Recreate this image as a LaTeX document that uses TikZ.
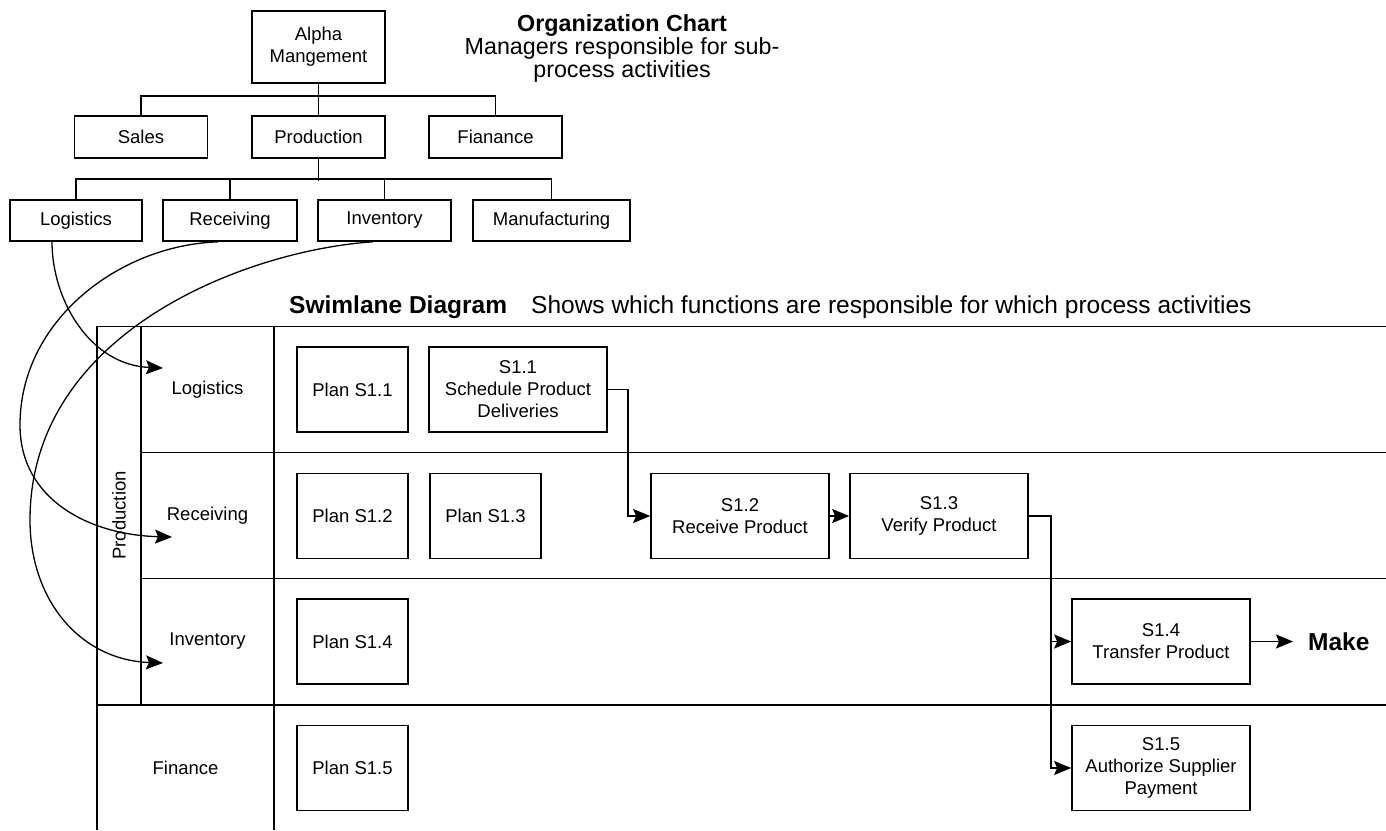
\documentclass[tikz,border=0pt]{standalone}
\usepackage{fontspec}
\setmainfont{Liberation Sans}
\usetikzlibrary{arrows.meta}
\begin{document}
\begin{tikzpicture}[x=1pt,y=-1pt,
  every node/.style={font=\fontsize{18.5}{22}\selectfont},
  box/.style={draw,line width=1.7pt,align=center,inner sep=0pt},
  orgbox/.style={box,minimum width=133pt,minimum height=42pt},
  stepbox/.style={box,minimum width=178pt,minimum height=85pt},
  planbox/.style={box,minimum width=111pt,minimum height=85pt},
  lane/.style={line width=1.7pt},
  link/.style={line width=1.7pt},
  arr/.style={line width=1.7pt,-{Stealth[length=17pt,width=14pt,inset=3pt]}},
  curvearr/.style={line width=1.3pt,-{Stealth[length=17pt,width=14pt,inset=3pt]}},
  orgtitle/.style={font=\fontsize{23.3}{23.3}\selectfont\bfseries},
  orgtext/.style={font=\fontsize{23.3}{23.3}\selectfont},
  swtitle/.style={font=\fontsize{24.5}{24.5}\selectfont\bfseries},
  swtext/.style={font=\fontsize{24.5}{24.5}\selectfont}]

\fill[white] (0,0) rectangle (1386,830);
\useasboundingbox (0,0) rectangle (1386,830);

% ---------- organization chart ----------
\node[orgbox,minimum height=72pt] (alpha) at (318.5,47) {Alpha\\Mangement};
\node[orgbox] (sales) at (141,137) {Sales};
\node[orgbox] (prod) at (318.5,137) {Production};
\node[orgbox] (fin) at (495.5,137) {Fianance};
\node[orgbox,minimum height=41pt,minimum width=132pt] (olog) at (76,220.5) {Logistics};
\node[orgbox,minimum height=41pt,minimum width=134pt] (orec) at (230,220.5) {Receiving};
\node[orgbox,minimum height=41pt] (oinv) at (384.5,220.5) {Inventory};
\node[orgbox,minimum height=41pt,minimum width=157pt] (oman) at (551.5,220.5) {Manufacturing};

\draw[link] (alpha) -- (prod);
\draw[link] (sales.north) -- ++(0,-19) -| (fin.north);
\draw[link] (prod.south) -- ++(0,22);
\draw[link] (olog.north) -- ++(0,-20) -| (oman.north);
\draw[link] (orec.north) -- ++(0,-20);
\draw[link] (oinv.north) -- ++(0,-20);

\node[orgtitle,anchor=base] (otitle) at (622,31) {Organization Chart};
\node[orgtext,anchor=base] (osub1) at (622,54) {Managers responsible for sub-};
\node[orgtext,anchor=base] (osub2) at (622,77) {process activities};

% ---------- swimlane frame ----------
\node[swtitle,anchor=base west,inner sep=0pt] (swt) at (289,313) {Swimlane Diagram};
\node[swtext,anchor=base west,inner sep=0pt] (sws) at (531,313) {Shows which functions are responsible for which process activities};

\draw[lane] (97,830) -- (97,326.5) -- (1386,326.5);
\draw[lane] (141,326.5) -- (141,705);
\draw[lane] (274,326.5) -- (274,830);
\draw[lane] (141,452.5) -- (1386,452.5);
\draw[lane] (141,578.5) -- (1386,578.5);
\draw[lane] (97,705) -- (1386,705);

\node[rotate=90] (lprod) at (119,515.5) {Production};
\node (llog) at (207.5,389.5) {Logistics};
\node (lrec) at (207.5,515.5) {Receiving};
\node (linv) at (207.5,641.5) {Inventory};
\node (lfin) at (185.5,767.5) {Finance};

% ---------- activities ----------
\node[planbox] (p11) at (352.5,389.5) {Plan S1.1};
\node[stepbox] (s11) at (518,389.5) {S1.1\\Schedule Product\\Deliveries};
\node[planbox] (p12) at (352.5,516) {Plan S1.2};
\node[planbox] (p13) at (485.5,516) {Plan S1.3};
\node[stepbox] (s12) at (740,516) {S1.2\\Receive Product};
\node[stepbox] (s13) at (939,516) {S1.3\\Verify Product};
\node[planbox] (p14) at (352.5,641.5) {Plan S1.4};
\node[stepbox] (s14) at (1161,641.5) {S1.4\\Transfer Product};
\node[planbox] (p15) at (352.5,768) {Plan S1.5};
\node[stepbox] (s15) at (1161,768) {S1.5\\Authorize Supplier\\Payment};
\node[swtitle,anchor=west,inner sep=0pt] (make) at (1308,641.5) {Make};

\draw[arr] (s11.east) -- ++(20,0) |- (s12.west);
\draw[arr] (s12) -- (s13);
\draw[arr] (s13.east) -- ++(22,0) coordinate (split) |- (s15.west);
\draw[arr] (split |- s14.west) -- (s14.west);
\draw[arr,shorten >=15pt] (s14.east) -- (make.west);

% ---------- managers to lanes ----------
\coordinate (tlog) at (163,368);
\coordinate (trec) at (172,537);
\coordinate (tinv) at (163,663);
\draw[curvearr] ([xshift=-24pt]olog.south) .. controls (52,300) and (90,365) .. (tlog);
\draw[curvearr] ([xshift=-12pt]orec.south) .. controls (120,245) and (20,320) .. (20,425)
  .. controls (20,500) and (90,535) .. (trec);
\draw[curvearr] ([xshift=-12pt]oinv.south) .. controls (250,250) and (30,330) .. (30,520)
  .. controls (30,600) and (80,660) .. (tinv);
\end{tikzpicture}
\end{document}
